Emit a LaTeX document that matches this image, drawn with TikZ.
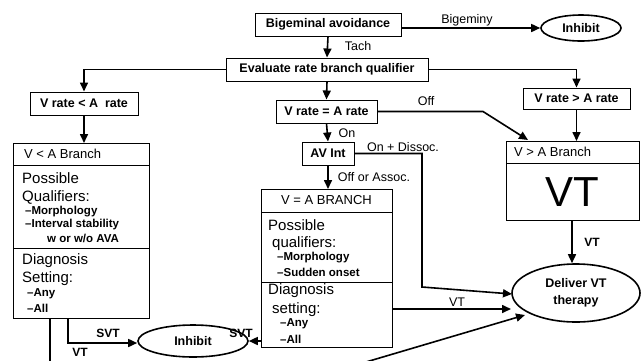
\documentclass[tikz,border=0pt]{standalone}
\usepackage{fontspec}
\setmainfont{Liberation Sans}
\usetikzlibrary{arrows.meta,shapes.geometric}
\begin{document}
\begin{tikzpicture}[x=1pt,y=-1pt,
  bx/.style={draw, line width=1pt, inner sep=0pt, font=\bfseries\fontsize{12.5}{14}\selectfont},
  pane/.style={draw, line width=0.9pt, inner sep=0pt},
  ell/.style={draw, ellipse, line width=1.6pt, inner sep=0pt, font=\bfseries\fontsize{12.5}{17}\selectfont, align=center},
  ar/.style={line width=1.6pt, -{Triangle[length=9pt,width=8pt]}},
  ln/.style={line width=1.6pt},
  lbl/.style={inner sep=0pt, font=\fontsize{12.5}{14}\selectfont},
  lblb/.style={inner sep=0pt, font=\bfseries\fontsize{12}{14}\selectfont},
  bigt/.style={inner sep=0pt, anchor=west, font=\fontsize{15}{17}\selectfont},
  sm/.style={inner sep=0pt, anchor=west, font=\bfseries\fontsize{11.5}{13}\selectfont},
  ttl/.style={inner sep=0pt, font=\fontsize{13}{15}\selectfont},
]
\useasboundingbox (0,0) rectangle (643,360);
\clip (0,0) rectangle (643,360);

% top boxes
\node[bx, minimum width=146, minimum height=23] (bigem) at (328,24.5) {Bigeminal avoidance};
\node[ell, minimum width=80, minimum height=26] (inh1) at (581,28) {Inhibit};
\node[bx, minimum width=202, minimum height=23] (eval) at (327,69.5) {Evaluate rate\ branch\ qualifier};
\node[bx, minimum width=108, minimum height=23] (vlt) at (84,103.5) {V rate < A\ \ rate};
\node[bx, minimum width=101, minimum height=23] (veq) at (326.5,111.5) {V rate = A rate};
\node[bx, minimum width=107, minimum height=21] (vgt) at (576.5,98.5) {V rate > A rate};
\node[bx, minimum width=52, minimum height=23] (avi) at (328,153.5) {AV Int};

% V < A branch
\node[pane, minimum width=136, minimum height=22, anchor=north west] (ltit) at (13,143) {};
\node[pane, minimum width=136, minimum height=83, anchor=north west] (lqual) at (13,165) {};
\node[pane, minimum width=136, minimum height=70, anchor=north west] (ldiag) at (13,248) {};
\node[ttl, anchor=west] (lt0) at (24,154) {V < A Branch};
\node[bigt] (lt1) at (22,178) {Possible};
\node[bigt] (lt2) at (22,197) {Qualifiers:};
\node[sm] (lt3) at (25,212) {–Morphology};
\node[sm] (lt4) at (25,225) {–Interval stability};
\node[sm] (lt5) at (47,238) {w or w/o AVA};
\node[bigt] (lt6) at (22,261) {Diagnosis};
\node[bigt] (lt7) at (22,279) {Setting:};
\node[sm] (lt8) at (27,294) {–Any};
\node[sm] (lt9) at (27,308) {–All};

% V = A branch
\node[pane, minimum width=131, minimum height=23, anchor=north west] (mtit) at (261,189) {};
\node[pane, minimum width=131, minimum height=70, anchor=north west] (mqual) at (261,212) {};
\node[pane, minimum width=131, minimum height=65, anchor=north west] (mdiag) at (261,282) {};
\node[ttl] (mt0) at (326.5,200.5) {V = A BRANCH};
\node[bigt] (mt1) at (268,225) {Possible};
\node[bigt] (mt2) at (272,244) {qualifiers:};
\node[sm] (mt3) at (277,258) {–Morphology};
\node[sm] (mt4) at (277,272) {–Sudden onset};
\node[bigt] (mt5) at (268,291) {Diagnosis};
\node[bigt] (mt6) at (272,310) {setting:};
\node[sm] (mt7) at (280,324) {–Any};
\node[sm] (mt8) at (280,339) {–All};

% V > A branch
\node[pane, minimum width=133, minimum height=22, anchor=north west] (rtit) at (506,141) {};
\node[pane, minimum width=133, minimum height=57, anchor=north west] (rbody) at (506,163) {};
\node[ttl, anchor=west] (rt0) at (514,152) {V > A Branch};
\node[inner sep=0pt, font=\fontsize{42}{44}\selectfont] (rt1) at (572,192) {VT};

% ellipses
\node[ell, minimum width=128, minimum height=58] (deliver) at (576,293) {Deliver VT\\therapy};
\node[ell, minimum width=110, minimum height=32] (inh2) at (193,341) {Inhibit};

% helper coordinates
\coordinate (offend) at (528,140);
\coordinate (dissend) at (512,294);
\coordinate (vtend) at (511,309);
\coordinate (lowstart) at (305,380);
\coordinate (lowend) at (525,315);

% connectors
\draw[ar] (bigem.east |- inh1.west) -- (inh1.west);
\draw[ar] (bigem.south) -- (eval.north);
\draw[ar] (eval.west) -| (vlt.north);
\draw[ar] (eval.east) -| (vgt.north);
\draw[ar] (eval.south) -- (veq.north);
\draw[ar] (vlt.south) -- (vlt.south |- ltit.north);
\draw[ar] (vgt.south) -- (vgt.south |- rtit.north);
\draw[ar] (veq.east) -- (483,111.5) -- (offend);
\draw[ar] (veq.south) -- (avi.north);
\draw[ar] (avi.south) -- (avi.south |- mtit.north);
\draw[ar] (avi.east) -- (422,153.5) -- (422,287) -- (dissend);
\draw[ar] (mdiag.east |- vtend) -- (vtend);
\draw[ar] (rbody.south -| rt1) -- (rt1 |- deliver.north);
\draw[ar] ([xshift=55pt]ldiag.south west) |- ([yshift=-2pt]inh2.west);
\draw[ar] (mdiag.west |- inh2.east) -- (inh2.east);
\draw[ln] ([xshift=37pt]ldiag.south west) -- ++(0,70);
\draw[ar] (lowstart) -- (lowend);

% labels
\node[lbl] (l1) at (467,20) {Bigeminy};
\node[lbl] (l2) at (358,46) {Tach};
\node[lbl] (l3) at (426,101) {Off};
\node[lbl] (l4) at (347,133) {On};
\node[lbl] (l5) at (403,147) {On + Dissoc.};
\node[lbl] (l6) at (374,177) {Off or Assoc.};
\node[lblb] (l7) at (592,242) {VT};
\node[lbl] (l8) at (457,302) {VT};
\node[lblb] (l9) at (241,333) {SVT};
\node[lblb] (l10) at (108,333) {SVT};
\node[lblb] (l11) at (80,352) {VT};
\end{tikzpicture}
\end{document}
